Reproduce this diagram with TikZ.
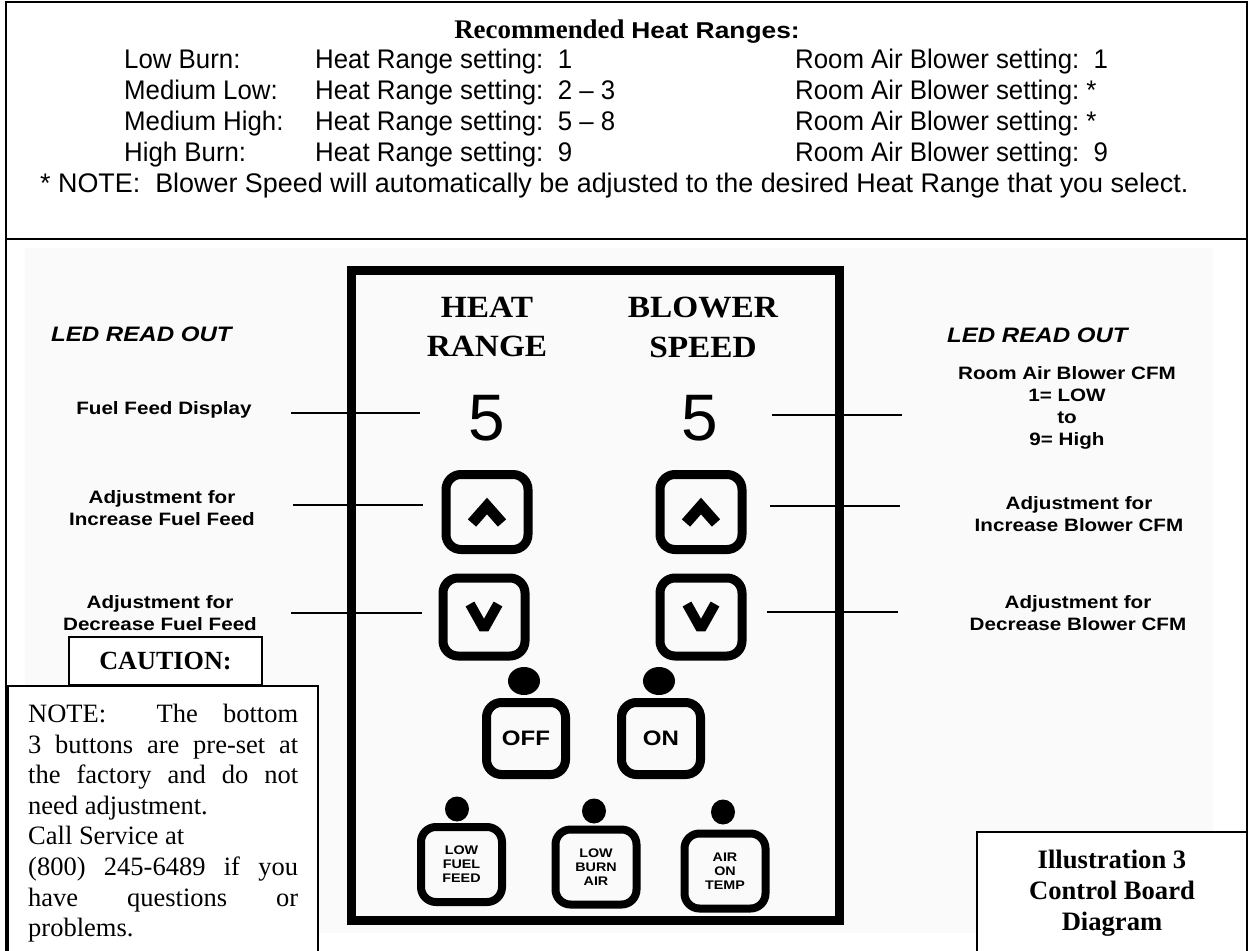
\documentclass[tikz,border=0pt]{standalone}
\usepackage{fontspec}
\setmainfont{Liberation Serif}
\newfontfamily\hdrfont[FakeStretch=0.96]{Liberation Sans}
\newfontfamily\lblfont[FakeStretch=1.15]{Liberation Sans}
\newfontfamily\digfont{Liberation Sans}
\newfontfamily\panfont[FakeStretch=1.08]{Liberation Serif}

\begin{document}
\begin{tikzpicture}[x=1bp, y=-1bp,
		frame/.style={line width=1.8bp},
		conn/.style={line width=1.8bp},
		row/.style={anchor=base west, inner sep=0pt, font=\hdrfont\fontsize{27}{30}\selectfont},
		lbl/.style={align=center, inner sep=0pt, font=\lblfont\bfseries\fontsize{18}{22.3}\selectfont},
		btn/.style={draw, line width=9bp, rounded corners=15bp, minimum width=82bp, minimum height=75bp, inner sep=0pt},
		smallbtn/.style={btn, line width=8bp, minimum width=81bp, minimum height=75bp, align=center, font=\lblfont\bfseries\fontsize{12.5}{14}\selectfont},
		arrowmark/.style={line width=11bp, line join=miter}]
		\useasboundingbox (0,0) rectangle (1249,951);
		\fill[black!2] (25,248) rectangle (1213,933);
		\draw[frame] (6,960) -- (6,2) -- (1247,2) -- (1247,960);
		\draw[frame] (6,239) -- (1247,239);

		% header table
		\node[anchor=base, inner sep=0pt] (title) at (627,38) {\fontsize{27}{30}\selectfont\bfseries Recommended {\lblfont\fontsize{23}{28}\selectfont Heat Ranges:}};
		\foreach \lvl/\heat/\blow [count=\i] in {Low Burn:/~1/~1, Medium Low:/~2 – 3/*, Medium High:/~5 – 8/*, High Burn:/~9/~9} {
				\node[row] (lvl-\i) at (124, 37+31*\i) {\lvl};
				\node[row] (heat-\i) at (315, 37+31*\i) {Heat Range setting:~\heat};
				\node[row] (blow-\i) at (795, 37+31*\i) {Room Air Blower setting:~\blow};
			}
		\node[row, font=\digfont\fontsize{27}{30}\selectfont] (note) at (40,192) {* NOTE:~~Blower Speed will automatically be adjusted to the desired Heat Range that you select.};

		% labels
		\node[anchor=base west, inner sep=0pt, font=\lblfont\bfseries\itshape\fontsize{21}{24}\selectfont] (led-l) at (51,341) {LED READ OUT};
		\node[anchor=base west, inner sep=0pt, font=\lblfont\bfseries\itshape\fontsize{21}{24}\selectfont] (led-r) at (947,342) {LED READ OUT};
		\node[lbl] (fuel-disp) at (164,410) {Fuel Feed Display};
		\node[lbl] (fuel-up) at (162,508) {Adjustment for\\Increase Fuel Feed};
		\node[lbl] (fuel-dn) at (160,613) {Adjustment for\\Decrease Fuel Feed};
		\node[lbl] (cfm-disp) at (1067,408) {Room Air Blower CFM\\1= LOW\\to\\9= High};
		\node[lbl] (cfm-up) at (1079,514) {Adjustment for\\Increase Blower CFM};
		\node[lbl] (cfm-dn) at (1078,613) {Adjustment for\\Decrease Blower CFM};

		\foreach \y/\a/\b [count=\i] in {413/291/420, 505/293/423, 613/291/422} {
				\coordinate (la-\i) at (\a,\y);
				\coordinate (lb-\i) at (\b,\y);
				\draw[conn] (la-\i) -- (lb-\i);
			}
		\foreach \y/\a/\b [count=\i] in {415/772/902, 506/770/900, 612/767/898} {
				\coordinate (ra-\i) at (\a,\y);
				\coordinate (rb-\i) at (\b,\y);
				\draw[conn] (ra-\i) -- (rb-\i);
			}

		% control board
		\node[draw, line width=9bp, minimum width=488bp, minimum height=650bp, inner sep=0pt] (panel) at (595.5,595.5) {};
		\node[align=center, inner sep=0pt, font=\panfont\bfseries\fontsize{31}{40}\selectfont] (heat-hd) at (487,327) {HEAT\\RANGE};
		\node[align=center, inner sep=0pt, font=\panfont\bfseries\fontsize{31}{40}\selectfont] (blow-hd) at (703,327) {BLOWER\\SPEED};
		\node[inner sep=0pt, font=\digfont\fontsize{66}{70}\selectfont] (heat-val) at (487,418) {5};
		\node[inner sep=0pt, font=\digfont\fontsize{66}{70}\selectfont] (blow-val) at (700,418) {5};

		\node[btn] (heat-up) at (487,512) {};
		\node[btn] (blow-up) at (701,512) {};
		\node[btn, minimum height=78bp] (heat-dn) at (484,617) {};
		\node[btn, minimum height=78bp] (blow-dn) at (701,617) {};
		\foreach \b in {heat-up, blow-up} {
				\draw[arrowmark] ([shift={(-15,11)}]\b.center) -- ([shift={(0,-6)}]\b.center) -- ([shift={(15,11)}]\b.center);
			}
		\foreach \b in {heat-dn, blow-dn} {
				\draw[arrowmark, line width=10bp, line join=bevel] ([shift={(-14,-13)}]\b.center) -- ([shift={(0,12)}]\b.center) -- ([shift={(14,-13)}]\b.center);
			}

		\fill (524,681) ellipse (16 and 14);
		\fill (659,681) ellipse (16 and 14);
		\node[btn, minimum width=79bp, minimum height=72bp, font=\lblfont\bfseries\fontsize{21}{24}\selectfont] (off) at (526,738.5) {OFF};
		\node[btn, minimum width=79bp, minimum height=72bp, font=\lblfont\bfseries\fontsize{21}{24}\selectfont] (on) at (661,738.5) {ON};

		\fill (457,809) ellipse (12 and 12.5);
		\fill (594,811) ellipse (12 and 12.5);
		\fill (723,812) ellipse (12 and 12.5);
		\node[smallbtn] (low-fuel) at (461.5,864.5) {LOW\\FUEL\\FEED};
		\node[smallbtn] (low-burn) at (596,867) {LOW\\BURN\\AIR};
		\node[smallbtn] (air-temp) at (725,871) {AIR\\ON\\TEMP};

		% caution and caption boxes
		\node[draw, line width=1.6bp, fill=white, minimum width=193bp, minimum height=48bp, inner sep=0pt, font=\bfseries\fontsize{26.3}{30}\selectfont] (caution) at (165.5,661) {CAUTION:};
		\draw[frame, fill=white] (8,686) rectangle (318,960);
		\node[anchor=north west, inner sep=0pt, text width=270bp, align=justify, font=\fontsize{26.6}{30.7}\selectfont] (note-txt) at (28,704) {\hyphenpenalty=10000\exhyphenpenalty=10000\relax NOTE:~~The bottom\linebreak 3 buttons are pre-set at\linebreak the factory and do not\linebreak need adjustment.\\Call Service at\\(800) 245-6489 if you\linebreak have questions or\linebreak problems.};
		\draw[frame, fill=white] (977,832) rectangle (1247,960);
		\node[anchor=north, align=center, inner sep=0pt, font=\bfseries\fontsize{26.7}{31}\selectfont] (caption) at (1112,850) {Illustration 3\\Control Board\\Diagram};
	\end{tikzpicture}
\end{document}
